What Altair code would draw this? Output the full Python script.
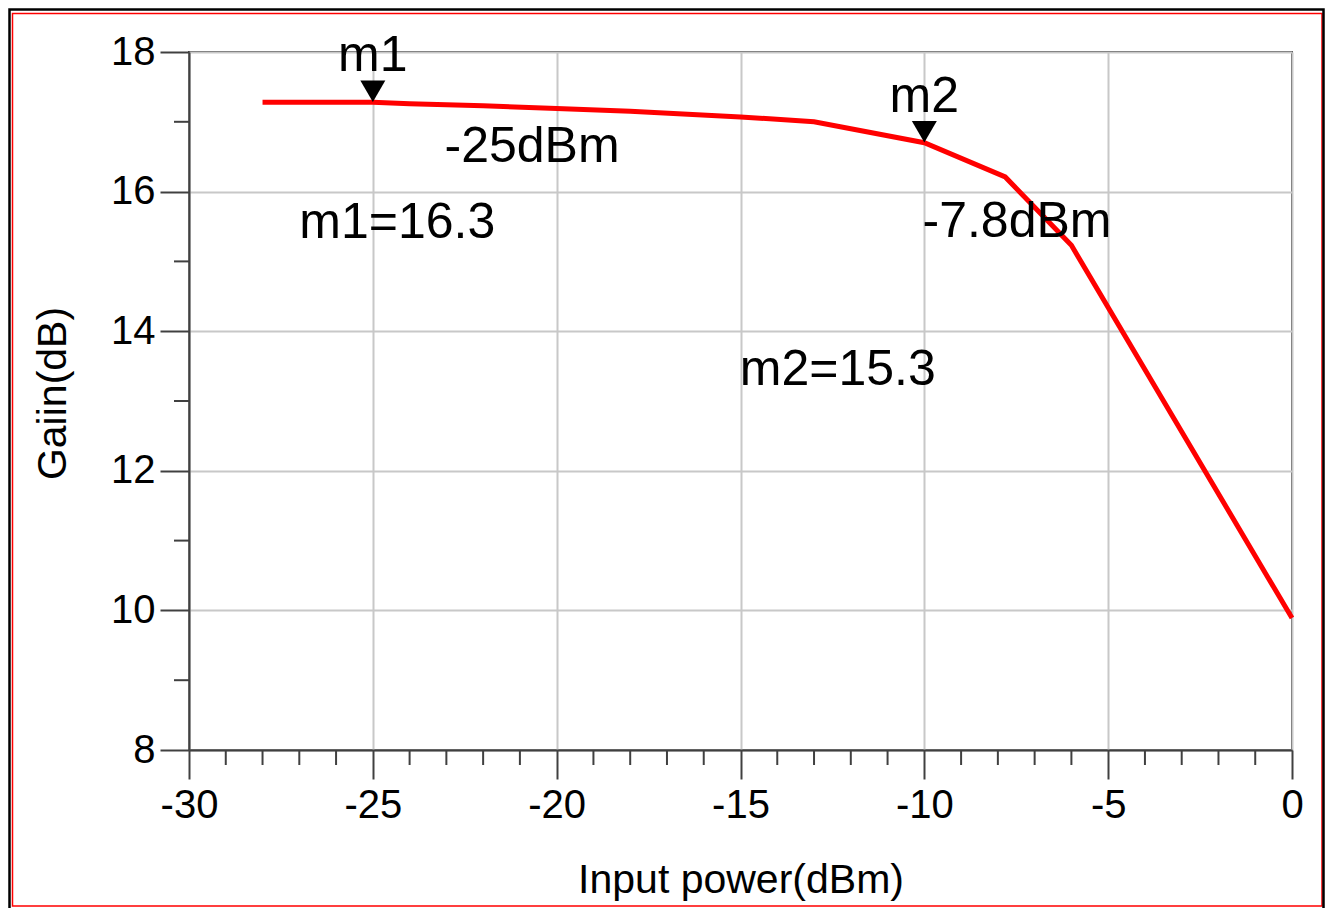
import altair as alt
import pandas as pd

# ---- data ----
pin_dbm = [-28, -26, -25, -24, -22, -20, -18, -15, -13, -10, -7.8, -6, 0]
gain_db = [17.28, 17.28, 17.28, 17.26, 17.23, 17.19, 17.15, 17.07, 17.00, 16.70, 16.21, 15.23, 9.89]

marker_names = ["m1", "m2"]
marker_pin = [-25, -10]
marker_gain = [17.28, 16.70]

note_text = ["-25dBm", "m1=16.3", "-7.8dBm", "m2=15.3"]
note_x = [-23.05, -27.0, -10.05, -15.02]
note_y = [16.42, 15.335, 15.35, 13.23]

x_major = [-30, -25, -20, -15, -10, -5, 0]
x_minor = [v for v in range(-30, 1) if v % 5 != 0]
y_major = [8, 10, 12, 14, 16, 18]
y_minor = [9, 11, 13, 15, 17]

FONT = "Liberation Sans"
W, H = 1103, 698
AX = "#404040"

xs = alt.Scale(domain=[-30, 0], nice=False, zero=False)
ys = alt.Scale(domain=[8, 18], nice=False, zero=False)

x_axis = alt.Axis(
    values=x_major, title="Input power(dBm)", labelExpr="datum.value + ''",
    labelFlush=False, labelOverlap=False, labelPadding=6,
    titleX=W / 2, titleY=142, titleAlign="center", titleBaseline="alphabetic",
    grid=True, gridColor="#c8c8c8", gridWidth=2)
y_axis = alt.Axis(
    values=y_major, title="Gaiin(dB)", labelExpr="datum.value + ''",
    labelFlush=False, labelOverlap=False, labelPadding=5,
    titleAngle=270, titleX=-124, titleY=341, titleAlign="center",
    titleBaseline="alphabetic",
    grid=True, gridColor="#c8c8c8", gridWidth=2)


def X(field):
    return alt.X(field, type="quantitative", scale=xs, axis=x_axis)


def Y(field):
    return alt.Y(field, type="quantitative", scale=ys, axis=y_axis)


df = pd.DataFrame({"pin": pin_dbm, "gain": gain_db})

line = alt.Chart(df).mark_line(color="#ff0000", strokeWidth=5).encode(
    x=X("pin"), y=Y("gain"))

xminor = alt.Chart(pd.DataFrame({"v": x_minor})).mark_rule(color=AX, strokeWidth=2).encode(
    x=X("v"), y=alt.value(H), y2=alt.value(H + 15))
yminor = alt.Chart(pd.DataFrame({"v": y_minor})).mark_rule(color=AX, strokeWidth=2).encode(
    y=Y("v"), x=alt.value(-15), x2=alt.value(0))

mdf = pd.DataFrame({"name": marker_names, "pin": marker_pin, "gain": marker_gain})
tri = alt.Chart(mdf).mark_point(shape="triangle-down", filled=True, size=625,
                                color="black", opacity=1, yOffset=-11).encode(
    x=X("pin"), y=Y("gain"))
mlab = alt.Chart(mdf).mark_text(font=FONT, fontSize=50, color="black", align="center",
                                baseline="alphabetic", dy=-31).encode(
    x=X("pin"), y=Y("gain"), text="name:N")

ndf = pd.DataFrame({"t": note_text, "x": note_x, "y": note_y})
notes = alt.Chart(ndf).mark_text(font=FONT, fontSize=50, color="black", align="left",
                                 baseline="alphabetic").encode(
    x=X("x"), y=Y("y"), text="t:N")

one = pd.DataFrame({"a": [0]})
frame_black = alt.Chart(one).mark_rect(filled=False, stroke="black", strokeWidth=2.5).encode(
    x=alt.value(-179.5), x2=alt.value(1134.5), y=alt.value(-42.5), y2=alt.value(880))
frame_red = alt.Chart(one).mark_rect(filled=False, stroke="#ff0000", strokeWidth=1.5).encode(
    x=alt.value(-176.5), x2=alt.value(1133), y=alt.value(-38.5), y2=alt.value(854))

chart = alt.layer(frame_red, frame_black, line, xminor, yminor, notes, tri, mlab).properties(
    width=W, height=H,
    padding={"left": 181, "top": 44, "right": 33, "bottom": 158},
    autosize=alt.AutoSizeParams(type="none"),
    background="white",
).configure_view(stroke=AX, strokeWidth=2).configure_axis(
    domainColor=AX, domainWidth=2, tickColor=AX, tickWidth=2, tickSize=29,
    labelFont=FONT, labelFontSize=40, labelColor="black",
    titleFont=FONT, titleFontSize=41, titleFontWeight="normal", titleColor="black",
)

chart.save("out.html", embed_options={"renderer": "svg", "actions": False})
